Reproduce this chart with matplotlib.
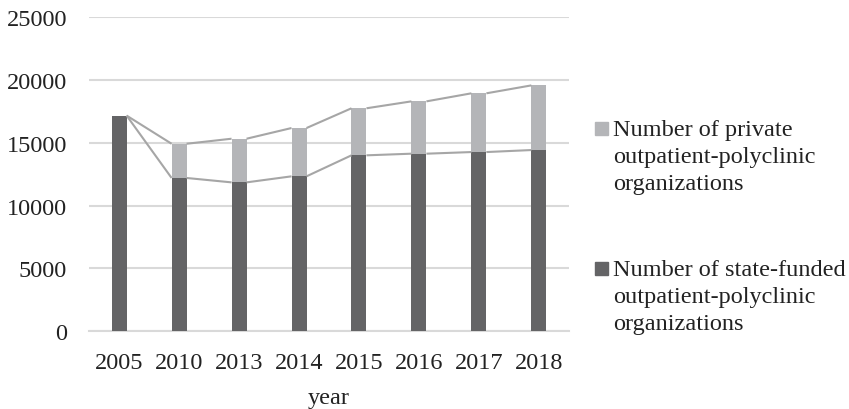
import numpy as np
import matplotlib
matplotlib.use('Agg')
import matplotlib.pyplot as plt
from matplotlib.patches import Rectangle

plt.rcParams['font.family'] = ['Liberation Serif', 'DejaVu Serif']

years = ['2005', '2010', '2013', '2014', '2015', '2016', '2017', '2018']
state = [17150, 12190, 11840, 12320, 13990, 14120, 14250, 14410]
private = [0, 2720, 3470, 3840, 3740, 4160, 4670, 5140]
labels = ['Number of private\noutpatient-polyclinic\norganizations',
          'Number of state-funded\noutpatient-polyclinic\norganizations']

c_state = '#646466'
c_private = '#b4b5b8'
c_line = '#a6a6a6'
grid_c = '#d9d9d9'
fs = 17.5

x = np.arange(len(years))
state = np.array(state)
total = state + np.array(private)
w = 0.25

fig = plt.figure(figsize=(8.49, 4.10), dpi=100)
ax = fig.add_axes([0.105, 0.1895, 0.565, 0.767])

ax.bar(x, state, width=w, color=c_state, zorder=3)
ax.bar(x, private, width=w, bottom=state, color=c_private, zorder=3)

# series lines between bar tops (right edge -> left edge of next)
for ser in (state, total):
    for i in range(len(x) - 1):
        ax.plot([x[i] + w / 2, x[i + 1] - w / 2], [ser[i], ser[i + 1]],
                color=c_line, lw=1.5, zorder=4, solid_capstyle='butt')

ax.set_xlim(-0.5, len(x) - 0.5)
ax.set_ylim(0, 25000)
ax.set_yticks(np.arange(0, 25001, 5000))
ax.set_xticks(x)
ax.set_xticklabels(years)
ax.yaxis.grid(True, color=grid_c, lw=1.5, zorder=0)
ax.set_axisbelow(True)
for s in ['top', 'right', 'left']:
    ax.spines[s].set_visible(False)
ax.spines['bottom'].set_color(grid_c)
ax.spines['bottom'].set_linewidth(1.5)
ax.tick_params(length=0, labelsize=fs, colors='#222222')
ax.tick_params(axis='y', pad=16)
ax.tick_params(axis='x', pad=15)
ax.set_xlabel('year', fontsize=fs, color='#222222', labelpad=10)

# legend drawn by hand (Excel style, marker at first line)
W, H = 849, 410
entries = [(c_private, labels[0], 123), (c_state, labels[1], 263)]
for col, lab, ytop in entries:
    fig.patches.append(Rectangle((595 / W, 1 - (ytop + 13) / H), 13 / W, 13 / H,
                                 transform=fig.transFigure, color=col))
    fig.text(613 / W, 1 - (ytop - 3) / H, lab, fontsize=fs, va='top', ha='left',
             color='#222222', linespacing=1.37)

fig.savefig('out.png', dpi=100)
